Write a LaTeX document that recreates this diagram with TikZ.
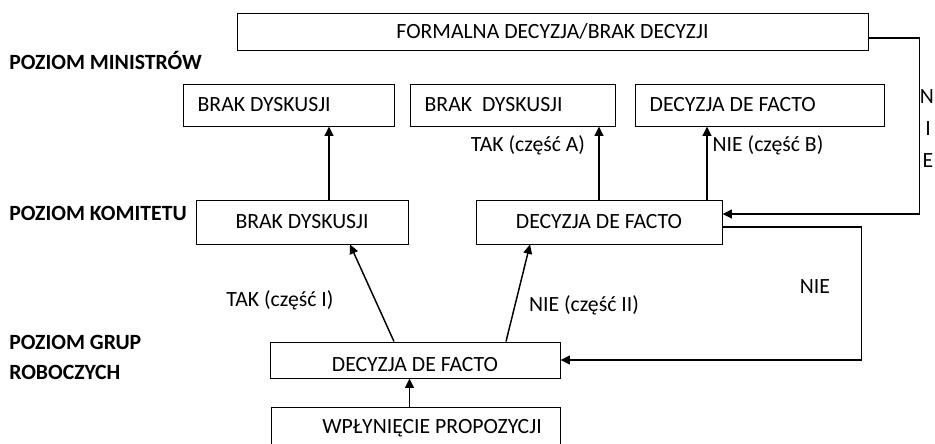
\documentclass[tikz,border=0pt]{standalone}
\usepackage{fontspec}
\setmainfont{Carlito}
\usetikzlibrary{arrows.meta}
\begin{document}
\begin{tikzpicture}[x=0.75pt,y=-0.75pt,
    font=\fontsize{16.3}{19}\selectfont,
    box/.style={draw,line width=0.7pt,rectangle,inner sep=0pt},
    minbox/.style={box,align=flush left,inner xsep=11pt,minimum height=31.5pt},
    level/.style={anchor=west,inner sep=0pt,font=\fontsize{16.3}{19}\selectfont\bfseries},
    lbl/.style={inner sep=0pt},
    arr/.style={-{Triangle[length=7pt,width=6.5pt]},line width=1.1pt}]
  \useasboundingbox (0,0) rectangle (935,443);
  % levels
  \node[level] (lvMin) at (9,60) {POZIOM MINISTRÓW};
  \node[level] (lvKom) at (9,213) {POZIOM KOMITETU};
  \node[level] (lvGr1) at (9,342) {POZIOM GRUP};
  \node[level] (lvGr2) at (9,372) {ROBOCZYCH};
  % boxes
  \node[box,minimum width=473.25pt,minimum height=27.75pt] (formal) at (552.5,31.5) {FORMALNA DECYZJA/BRAK DECYZJI};
  \node[minbox,text width=136.25pt] (minBrakA) at (288.5,105) {BRAK DYSKUSJI};
  \node[minbox,text width=131.75pt] (minBrakB) at (512.5,105) {BRAK\ \ DYSKUSJI};
  \node[minbox,text width=164.75pt] (minDec) at (759.5,105) {DECYZJA DE FACTO};
  \node[box,minimum width=159pt,minimum height=33pt] (komBrak) at (302,222) {BRAK DYSKUSJI};
  \node[box,minimum width=184.5pt,minimum height=33pt] (komDec) at (599,222) {DECYZJA DE FACTO};
  \node[box,minimum width=217.5pt,minimum height=27pt] (grDec) at (415,360) {\raisebox{-8.25pt}[0pt][0pt]{DECYZJA DE FACTO}};
  \node[box,minimum width=216.75pt,minimum height=32.25pt] (wplyw) at (415.5,428.5) {\hspace*{24.75pt}WPŁYNIĘCIE PROPOZYCJI};
  % labels
  \node[lbl] (takA) at (528,145) {TAK (część A)};
  \node[lbl] (nieB) at (768,145) {NIE (część B)};
  \node[lbl] (takI) at (280,300) {TAK (część I)};
  \node[lbl] (nieII) at (584,305) {NIE (część II)};
  \node[lbl] (nieLoop) at (815,287) {NIE};
  \node[lbl] (nieN) at (927,97) {N};
  \node[lbl] (nieI) at (928,129) {I};
  \node[lbl] (nieE) at (928,161) {E};
  \begin{scope}[arr]
    \draw ([xshift=20.25pt]komBrak.north) -- ([xshift=20.25pt]komBrak.north |- minBrakA.south);
    \draw (komDec.north) -- (komDec.north |- minBrakB.south);
    \draw ([xshift=81pt]komDec.north) -- ([xshift=81pt]komDec.north |- minDec.south);
    \draw ([xshift=-15.75pt]grDec.north) -- ([xshift=36pt]komBrak.south);
    \draw ([xshift=68.25pt]grDec.north) -- ([xshift=-51.75pt]komDec.south);
    \draw ([xshift=-4.5pt]wplyw.north) -- ([xshift=-4.5pt]wplyw.north |- grDec.south);
    \draw ([yshift=-3.75pt]komDec.east) -- ++(139,0) |- (grDec.east);
    \draw ([yshift=-4.9pt]formal.east) -- ++(51,0) |- ([yshift=6pt]komDec.east);
  \end{scope}
\end{tikzpicture}
\end{document}
